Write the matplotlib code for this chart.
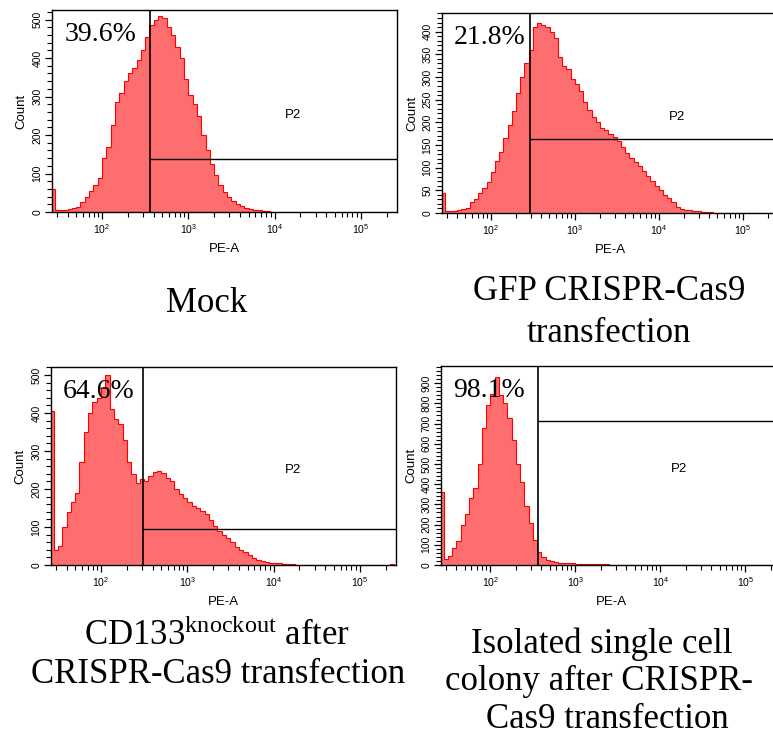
import numpy as np
import matplotlib
matplotlib.use("Agg")
import matplotlib.pyplot as plt
from matplotlib.ticker import MultipleLocator, LogLocator, NullFormatter

W, H = 773, 738
plt.rcParams['font.family'] = ['Liberation Sans', 'DejaVu Sans']
plt.rcParams['mathtext.default'] = 'regular'

# histogram bins: log10(PE-A) from 1.40 to 5.45, 0.05 decade wide (81 bins)
bin_edges_log = np.linspace(1.40, 5.45, 82)

# counts per bin
mock_counts = [60, 5, 4, 6, 7, 10, 14, 25, 40, 55, 70, 88, 140, 170, 225, 285, 310, 340, 360, 375,
               395, 420, 455, 485, 500, 510, 505, 480, 460, 430, 400, 345, 305, 280, 250, 200, 160, 125, 95, 70,
               52, 38, 28, 20, 15, 11, 8, 6, 4, 3, 2, 1,
               1, 0, 0, 0, 0, 0, 1, 0, 0, 1, 0, 0, 0, 0, 0, 1, 0, 0, 0, 0, 0, 0, 0, 0, 0, 0, 0, 0, 0]
gfp_counts = [45, 5, 4, 5, 7, 9, 12, 25, 30, 45, 55, 68, 90, 115, 135, 165, 195, 225, 265, 300,
              330, 360, 410, 420, 415, 410, 400, 385, 345, 325, 318, 295, 285, 268, 245, 228, 212, 200, 188, 182,
              175, 168, 158, 145, 132, 122, 113, 103, 92, 82, 70, 60, 50, 40, 32, 24, 14, 9, 7, 6,
              5, 4, 3, 3, 2, 1,
              0, 0, 0, 0, 1, 0, 0, 0, 0, 0, 0, 0, 0, 0, 0]
ko_counts = [405, 40, 50, 100, 140, 165, 190, 270, 350, 400, 430, 440, 465, 500, 410, 385, 370, 330, 270, 240,
             215, 225, 220, 235, 245, 248, 242, 230, 220, 200, 188, 176, 165, 155, 149, 143, 135, 118, 103, 90,
             80, 70, 60, 48, 40, 33, 25, 18, 13, 10, 8, 6, 5, 4, 3, 2, 2, 1,
             0, 0, 0, 0, 0, 0, 0, 0, 0, 0, 0, 0, 0, 0, 0, 0, 0, 0, 0, 0, 0, 2, 0]
single_counts = [360, 30, 45, 85, 120, 200, 250, 330, 380, 500, 680, 790, 845, 930, 840, 800, 730, 620, 500, 410,
                 290, 210, 125, 65, 38, 25, 18, 14, 11, 10, 9, 8, 7, 6, 5, 5, 4, 4, 3, 3,
                 2, 2, 2, 1, 1, 1, 2, 1, 1, 2, 1, 0, 0, 0, 2,
                 0, 0, 0, 0, 0, 0, 0, 0, 0, 0, 0, 2, 0, 0, 0, 0, 0, 0, 0, 0, 0, 0, 0, 0, 0, 0]

percent_labels = ["39.6%", "21.8%", "64.6%", "98.1%"]
gate_x = [360, 294, 307, 364]       # PE-A threshold of P2 gate
gate_y = [139, 163, 95, 713]        # count level of gate bar
y_max = [525, 441, 521, 985]
y_major = [100, 50, 100, 100]
y_minor = [20, 10, 20, 20]

# axes boxes in pixels: left, right, top, bottom
boxes = [(52, 397, 10, 212), (442, 778, 13, 213), (51, 396, 367, 565), (441, 781, 366, 565)]

fig = plt.figure(figsize=(W / 100, H / 100), dpi=100)
edges = 10 ** bin_edges_log
all_counts = [mock_counts, gfp_counts, ko_counts, single_counts]

for i, (l, r, t, b) in enumerate(boxes):
    ax = fig.add_axes([l / W, 1 - b / H, (r - l) / W, (b - t) / H])
    counts = np.array(all_counts[i])
    ax.stairs(counts, edges, fill=True, color='#ff6e6e', baseline=0)
    ax.stairs(counts, edges, color='#ff0000', lw=0.8, baseline=0)
    ax.set_xscale('log')
    ax.set_xlim(10 ** 1.42, 10 ** 5.42)
    ax.set_ylim(0, y_max[i])
    # P2 gate
    ax.axvline(gate_x[i], color='black', lw=1.2)
    ax.plot([gate_x[i], 10 ** 5.42], [gate_y[i], gate_y[i]], color='black', lw=1.0, clip_on=True)
    ax.text(0.70, 0.48, 'P2', transform=ax.transAxes, fontsize=9.5, ha='center', va='center')
    ax.text(0.035, 0.845, percent_labels[i], transform=ax.transAxes, fontsize=20,
            family=['Liberation Serif', 'DejaVu Serif'], ha='left', va='baseline')

    ax.xaxis.set_major_locator(LogLocator(base=10))
    ax.xaxis.set_minor_locator(LogLocator(base=10, subs=np.arange(2, 10)))
    ax.xaxis.set_minor_formatter(NullFormatter())
    ax.yaxis.set_major_locator(MultipleLocator(y_major[i]))
    ax.yaxis.set_minor_locator(MultipleLocator(y_minor[i]))
    ax.tick_params(which='major', length=5, width=0.9, labelsize=7.5, pad=2)
    ax.tick_params(which='minor', length=3.3, width=0.8)
    ax.tick_params(axis='y', labelrotation=90)
    for lab in ax.get_yticklabels():
        lab.set_va('center')
    for s in ax.spines.values():
        s.set_linewidth(1.0)
    ax.set_xlabel('PE-A', fontsize=9.5)
    ax.xaxis.set_label_coords(0.5, -0.155)
    ax.set_ylabel('Count', fontsize=9.5)
    ax.yaxis.set_label_coords(-0.07, 0.5)

serif = ['Liberation Serif', 'DejaVu Serif']
captions = [
    (207, 312, "Mock"),
    (609, 300, "GFP CRISPR-Cas9"),
    (609, 342, "transfection"),
    (217, 645, "CD133$^{knockout}$ after"),
    (218, 683, "CRISPR-Cas9 transfection"),
    (602, 653, "Isolated single cell"),
    (599, 690, "colony after CRISPR-"),
    (607, 728, "Cas9 transfection"),
]
for x, y, s in captions:
    fig.text(x / W, 1 - y / H, s, fontsize=25, family=serif, ha='center', va='baseline')

fig.savefig('out.png', dpi=100)
